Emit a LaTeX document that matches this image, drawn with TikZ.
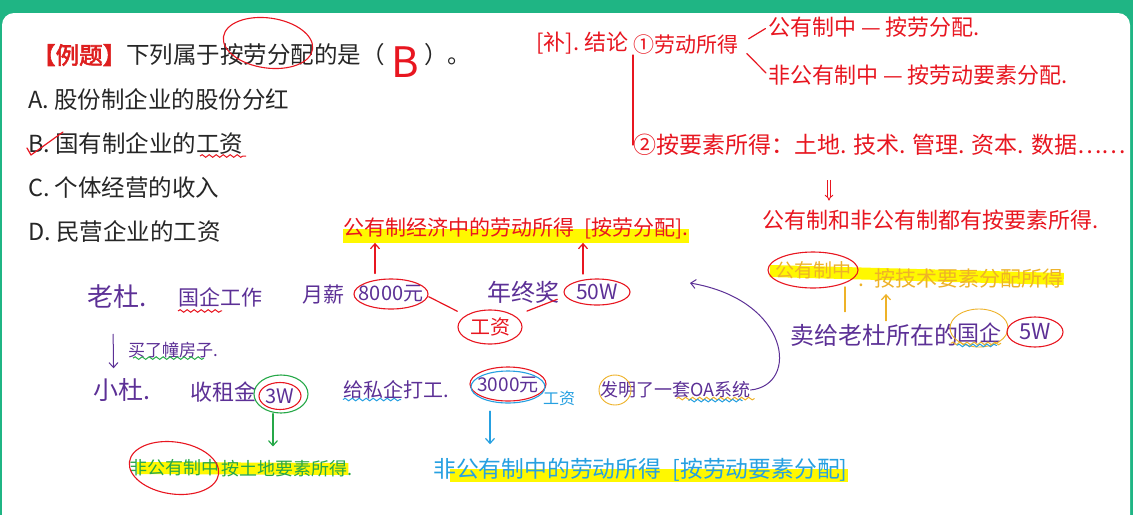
\documentclass[tikz,border=0pt]{standalone}
\usepackage{fontspec}
\newfontfamily\cjk{Noto Sans CJK SC}
\newfontfamily\cjktag[FakeBold=2.5]{Noto Sans CJK SC}
\usetikzlibrary{arrows.meta,decorations.pathmorphing,backgrounds}

\definecolor{framegreen}{RGB}{31,181,132}
\definecolor{tagred}{RGB}{222,30,30}
\definecolor{penred}{RGB}{232,22,32}
\definecolor{penpurple}{RGB}{92,48,150}
\definecolor{pengreen}{RGB}{38,168,72}
\definecolor{penblue}{RGB}{38,160,225}
\definecolor{penorange}{RGB}{238,178,40}
\definecolor{markyellow}{RGB}{255,248,0}

\begin{document}
\begin{tikzpicture}
    [x=1pt, y=-1pt,
    inner sep=0pt,
    pen/.style={font=\cjk\fontsize{#1}{#1}\selectfont, anchor=west},
    pen/.default=22,
    question/.style={pen=23.5, text=black!85},
    redpen/.style={pen=#1, text=penred},
    redpen/.default=22,
    purpen/.style={pen=#1, text=penpurple},
    purpen/.default=22,
    greenpen/.style={pen=#1, text=pengreen},
    greenpen/.default=18,
    bluepen/.style={pen=#1, text=penblue},
    bluepen/.default=22,
    orangepen/.style={pen=#1, text=penorange},
    orangepen/.default=21,
    line/.style={draw=penred, line width=1.2pt, line cap=round, line join=round},
    arrowline/.style={line, -{Straight Barb[length=5pt,width=9pt]}},
    dblarrow/.style={draw=penred, line width=0.9pt, double, double distance=2pt, -{Implies}},
    ring/.style={draw=penred, line width=1.1pt},
    wave/.style={line width=1pt, decorate, decoration={snake, amplitude=1.3pt, segment length=7pt}},
    marker/.style={draw=markyellow, line width=#1, line cap=butt},
    marker/.default=13pt
    ]
    \useasboundingbox (0,0) rectangle (1133,515);

    % 题目
    \node[question] (stem) at (32,55) {{\color{tagred}\cjktag 【例题】}下列属于按劳分配的是（};
    \node[redpen=42] (answer) at ([shift={(6,7)}]stem.east) {B};
    \node[question] (close) at ([xshift=5pt]answer.east |- stem.east) {）。};
    \foreach \opt/\txt/\ypos in {A/股份制企业的股份分红/99, B/国有制企业的工资/143, C/个体经营的收入/188, D/民营企业的工资/232}{
        \node[question] (opt\opt) at (28,\ypos) {\opt.\ \txt};
    }
    \draw[ring] ([shift={(236,-12)}]stem.west) ellipse [x radius=45, y radius=25, rotate=-8];
    \draw[line] ([shift={(-1,5)}]optB.west) -- ++(4,7) -- ++(32,-23);
    \draw[wave, draw=penred] ([shift={(172,13)}]optB.west) -- ++(46,0);

    % 补充结论
    \node[redpen] (extra) at (536,43) {[补].\ 结论};
    \node[redpen=21] (labour) at (633,45) {①劳动所得};
    \node[redpen] (pubpay) at (768,27) {公有制中 — 按劳分配.};
    \node[redpen] (privpay) at (768,75) {非公有制中 — 按劳动要素分配.};
    \node[redpen=23] (factor) at (633,145) {②按要素所得：土地. 技术. 管理. 资本. 数据……};
    \node[redpen] (both) at (762,220) {公有制和非公有制都有按要素所得.};
    \coordinate (dblx) at (829,0);
    \path[line, shorten <=12pt, shorten >=3pt] (labour.east) -- (pubpay.west);
    \path[line, shorten <=12pt, shorten >=3pt] (labour.east) -- (privpay.west);
    \path[line] (labour.south west) -- (factor.west);
    \path[dblarrow, shorten <=24pt, shorten >=9pt] (factor.south -| dblx) -- (both.north -| dblx);

    % 老杜
    \node[redpen=21] (pubinc) at (343,228) {公有制经济中的劳动所得\enspace[按劳分配].};
    \node[purpen=26] (laodu) at (87,297) {老杜.};
    \node[purpen=21] (soe) at (178,297) {国企工作};
    \node[purpen=21] (monthly) at (302,295) {月薪};
    \node[purpen=20, anchor=center] (w8000) at (391,294) {8000元};
    \node[redpen=20, anchor=center] (wage) at (490,327) {工资};
    \node[purpen=24] (bonus) at (487,292) {年终奖};
    \node[purpen=21, anchor=center] (w50) at (597,292) {50W};
    \node[purpen=17] (house) at (128,350) {买了幢房子.};
    \draw[ring] (w8000) ellipse [x radius=37, y radius=15];
    \draw[ring] (wage) ellipse [x radius=32, y radius=17];
    \draw[ring] (w50) ellipse [x radius=33, y radius=13];
    \draw[wave, draw=penred] ([yshift=-4pt]soe.south west) -- ++(44,0);
    \draw[wave, draw=pengreen] ([xshift=5pt]house.south west) -- ([xshift=-14pt]house.south east);
    \path[line, shorten <=6pt, shorten >=14pt] (w8000.east) -- (wage.north west);
    \path[line, shorten <=18pt, shorten >=20pt] (wage.north east) -- (w50.west);
    \path[arrowline, shorten <=12pt, shorten >=4pt] ([xshift=-16pt]w8000.north) -- ([xshift=-16pt]w8000.north |- pubinc.south);
    \path[arrowline, shorten <=10pt, shorten >=4pt] ([xshift=-14pt]w50.north) -- ([xshift=-14pt]w50.north |- pubinc.south);

    % 小杜
    \node[purpen=25] (xiaodu) at (93,390) {小杜.};
    \node[purpen=22] (rent) at (190,392) {收租金};
    \node[purpen=20, anchor=center] (w3) at (280,396) {3W};
    \node[purpen=20] (job) at (343,390) {给私企打工.};
    \node[purpen=19, anchor=center] (w3000) at (508,385) {3000元};
    \node[bluepen=16] (wage2) at (543,398) {工资};
    \node[purpen=18] (oa) at (600,390) {发明了一套OA系统};
    \coordinate (oatip) at (690,283);
    \path[arrowline, draw=penpurple, line width=1pt, shorten <=25pt, shorten >=10pt] ([xshift=-4pt]laodu.south) -- ([xshift=-8pt]xiaodu.north);
    \draw[ring] (w3) ellipse [x radius=21, y radius=13.5];
    \draw[ring, draw=pengreen] ([shift={(1,-2)}]w3.center) ellipse [x radius=27, y radius=19];
    \draw[ring] ([yshift=1pt]w3000.center) ellipse [x radius=38, y radius=17];
    \draw[ring, draw=penblue] ([yshift=-2pt]w3000.center) ellipse [x radius=37, y radius=16];
    \draw[ring, draw=penorange, line width=0.9pt] ([xshift=15pt]oa.west) ellipse [x radius=16, y radius=15];
    \draw[wave, draw=penorange] ([xshift=-74pt]oa.south east) -- ([xshift=4pt]oa.south east);
    \draw[wave, draw=penblue] ([shift={(-62,2)}]oa.south east) -- ([shift={(-8,2)}]oa.south east);
    \draw[wave, draw=penblue] (job.south west) -- ++(58,0);
    \path[arrowline, draw=penpurple, line width=1pt] (oa.east) .. controls (800,385) and (790,300) .. (oatip);

    % 技术要素
    \node[orangepen=19, anchor=center] (pubown) at (813,270) {公有制中};
    \node[orangepen=21] (tech) at (858,278) {.\enspace 按技术要素分配所得};
    \node[purpen=24] (sell) at (790,335) {卖给老杜所在的};
    \node[purpen=22, anchor=center] (soe2) at (979,333) {国企};
    \node[purpen=22, anchor=center] (w5) at (1035,332) {5W};
    \coordinate (techx) at (886,0);
    \draw[ring] (pubown) ellipse [x radius=45, y radius=18];
    \draw[ring, draw=penorange, line width=0.9pt] ([yshift=5pt]soe2.center) ellipse [x radius=29, y radius=19];
    \draw[wave, draw=penorange] ([xshift=-6pt]soe2.south west) -- (soe2.south east);
    \draw[wave, draw=penblue] ([shift={(0,2)}]soe2.south west) -- ([shift={(-4,2)}]soe2.south east);
    \draw[ring] (w5) ellipse [x radius=28, y radius=15];
    \path[line, draw=penorange, shorten <=8pt, shorten >=12pt] ([xshift=32pt]pubown.south) -- ([xshift=32pt]pubown.south |- sell.north);
    \path[arrowline, draw=penorange, shorten <=3pt, shorten >=6pt] (sell.north -| techx) -- (tech.south -| techx);

    % 按要素所得
    \node[greenpen=18, anchor=center] (privown) at (174,468) {非公有制中};
    \node[greenpen=18] (landinc) at (221,469) {按土地要素所得.};
    \node[bluepen=22.8] (bluenote) at (433,470) {非公有制中的劳动所得\enspace[按劳动要素分配]};
    \draw[ring] (privown) ellipse [x radius=45, y radius=26, rotate=-8];
    \path[arrowline, draw=pengreen, shorten <=10pt, shorten >=14pt] ([xshift=-7pt]w3.south) -- ([xshift=-7pt]w3.south |- landinc.north);
    \path[arrowline, draw=penblue, shorten <=18pt, shorten >=14pt] ([xshift=-18pt]w3000.south) -- ([xshift=-18pt]w3000.south |- bluenote.north);

    \begin{scope}[on background layer]
    \fill[framegreen] (0,0) rectangle (1133,515);
    \fill[white, rounded corners=12pt] (2,13) rectangle (1130,540);
    % 高亮
    \path[marker=14pt] ([yshift=-8pt]pubinc.west) -- ([yshift=-8pt]pubinc.east);
    \path[marker=12pt] ([shift={(-5,1)}]pubown.west) -- ([yshift=-1pt]tech.east);
    \path[marker=12pt] ([xshift=8pt]privown.west) -- ([xshift=-4pt]landinc.east);
    \path[marker=13pt] ([shift={(17,5)}]bluenote.west) -- ([yshift=-5pt]bluenote.east);
    \end{scope}
\end{tikzpicture}
\end{document}
